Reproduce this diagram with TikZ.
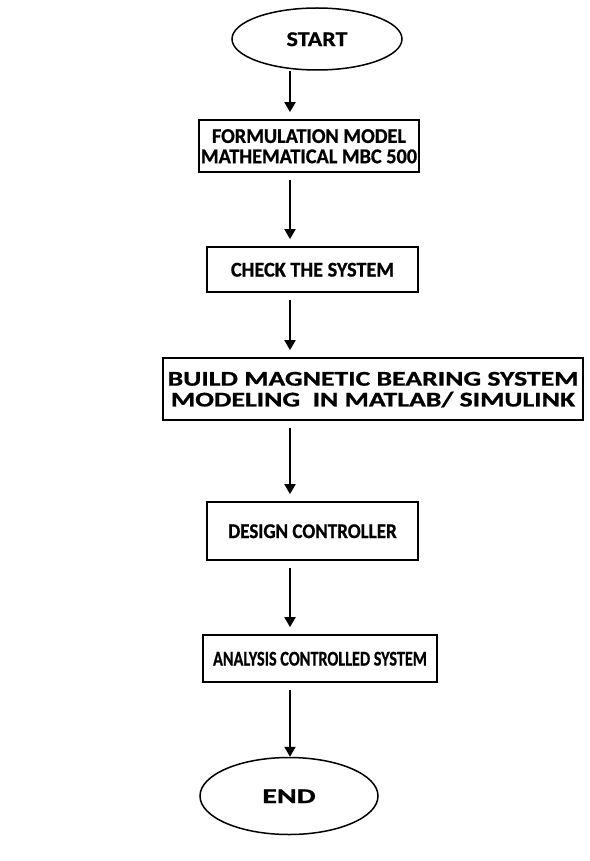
\documentclass[tikz,border=0pt]{standalone}
\usepackage{fontspec}
\usepackage{graphicx}
\setmainfont{Carlito}[BoldFeatures={FakeBold=0.8}]
\usetikzlibrary{arrows.meta,shapes.geometric}

% label text: bold, stretched by a horizontal factor #1 and a fixed vertical one;
% extra room above the text sets it a little low in its frame
\newcommand{\steptext}[2]{\raisebox{0pt}[\dimexpr\height+6pt\relax]{\scalebox{#1}[1.4]{%
  \fontsize{15}{14.5}\selectfont\bfseries\begin{tabular}{@{}c@{}}#2\end{tabular}}}}

\tikzset{
  stepbox/.style={draw=black, line width=1.8pt, rectangle, inner sep=0pt, align=center},
  terminal/.style={draw=black, line width=1.5pt, ellipse, inner sep=0pt, align=center},
  flow/.style={line width=2pt, -{Triangle[width=11pt,length=10pt]},
    shorten <=7pt, shorten >=7pt}
}

\begin{document}
\begin{tikzpicture}[x=1pt, y=-1pt]
  \useasboundingbox (0,0) rectangle (589,861);

  % terminals
  \node[terminal, minimum width=170pt, minimum height=62pt] (start) at (317,39)
    {\steptext{1.6}{START}};
  \node[terminal, minimum width=178pt, minimum height=77pt] (end) at (289,796)
    {\steptext{2.0}{END}};

  % process steps
  \node[stepbox, minimum width=220pt, minimum height=52pt] (b1) at (309,146)
    {\steptext{1.35}{FORMULATION MODEL\\MATHEMATICAL MBC 500}};
  \node[stepbox, minimum width=211pt, minimum height=45pt] (b2) at (312.5,269.5)
    {\steptext{1.35}{CHECK THE SYSTEM}};
  \node[stepbox, minimum width=420pt, minimum height=62pt] (b3) at (373,389)
    {\steptext{1.85}{BUILD MAGNETIC BEARING SYSTEM\\MODELING\ \ IN MATLAB/ SIMULINK}};
  \node[stepbox, minimum width=211pt, minimum height=58pt] (b4) at (312.5,531)
    {\steptext{1.27}{DESIGN CONTROLLER}};
  \node[stepbox, minimum width=234pt, minimum height=47pt] (b5) at (320,658.5)
    {\steptext{1.08}{ANALYSIS CONTROLLED SYSTEM}};

  % the common vertical line of the connectors
  \coordinate (ax) at (290,0);

  \draw[flow, shorten <=0pt] (ax |- start.south) -- (ax |- b1.north);
  \draw[flow] (ax |- b1.south) -- (ax |- b2.north);
  \draw[flow] (ax |- b2.south) -- (ax |- b3.north);
  \draw[flow] (ax |- b3.south) -- (ax |- b4.north);
  \draw[flow] (ax |- b4.south) -- (ax |- b5.north);
  \draw[flow, shorten >=0pt] (ax |- b5.south) -- (ax |- end.north);
\end{tikzpicture}
\end{document}
